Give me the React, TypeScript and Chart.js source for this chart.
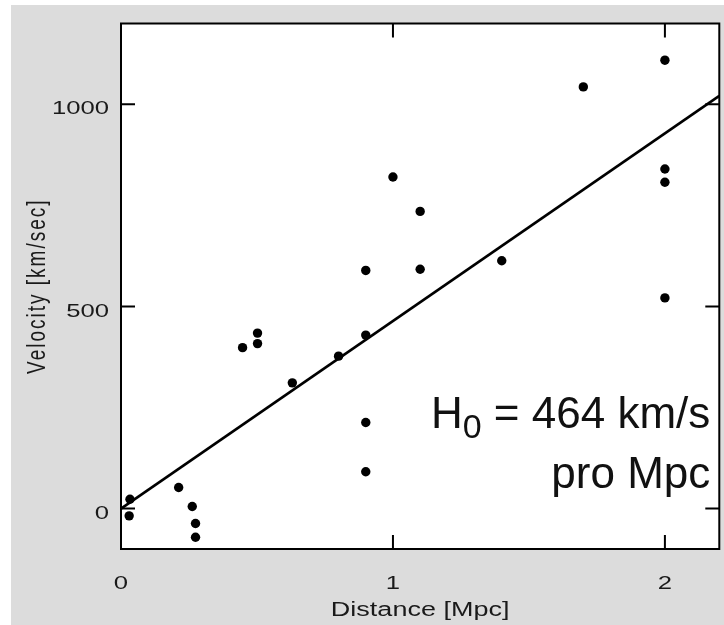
import { useEffect, useRef } from "react";
import { Chart, registerables } from "chart.js";

Chart.register(...registerables);

const distanceMpc = [0.033, 0.03, 0.212, 0.262, 0.274, 0.274, 0.447, 0.502, 0.502, 0.63, 0.8, 0.9, 0.9, 0.9, 0.9, 1.0, 1.1, 1.1, 1.4, 1.7, 2.0, 2.0, 2.0, 2.0];
const velocityKms = [23, -18, 52, 5, -37, -71, 398, 434, 408, 311, 377, 429, 589, 213, 91, 820, 735, 592, 613, 1043, 1109, 840, 807, 521];

// Fitted Hubble line end points
const fitDistance = [0, 2.2];
const fitVelocity = [0, 1021];

const xTickValues = [0, 1, 2];
const yTickValues = [0, 500, 1000];

const xTitle = "Distance [Mpc]";
const yTitle = "Velocity [km/sec]";
const annoH = "H";
const annoSub = "0";
const annoRest = " = 464 km/s";
const annoLine2 = "pro Mpc";

const FONT = '"Liberation Sans", Arial, Helvetica, sans-serif';
const STRETCH = 1.35;

export default function App() {
  const ref = useRef<HTMLCanvasElement>(null);

  useEffect(() => {
    const canvas = ref.current;
    if (!canvas) return;

    const unpatch = (ctx: any) => {
      if (Object.prototype.hasOwnProperty.call(ctx, "fillText")) delete ctx.fillText;
    };

    const framePlugin = {
      id: "frame",
      beforeDraw(chart: any) {
        const { ctx, chartArea: a, width, height } = chart;
        ctx.save();
        ctx.fillStyle = "#ffffff";
        ctx.fillRect(0, 0, width, height);
        ctx.fillStyle = "#dcdcdc";
        ctx.fillRect(11, 5, width - 11, height - 5);
        ctx.fillStyle = "#ffffff";
        ctx.fillRect(a.left, a.top, a.right - a.left, a.bottom - a.top);
        ctx.restore();
        // horizontally stretched axis lettering, as in the reference
        const orig = CanvasRenderingContext2D.prototype.fillText;
        ctx.fillText = function (text: string, x: number, y: number, maxWidth?: number) {
          const m = this.getTransform();
          this.save();
          if (Math.abs(m.b) > 0.01) {
            (this as any).letterSpacing = "2px";
          }
          const p = m.transformPoint(new DOMPoint(x, y));
          this.setTransform(new DOMMatrix().translate(p.x, p.y).scale(STRETCH, 1).translate(-p.x, -p.y).multiply(m));
          if (maxWidth === undefined) orig.call(this, text, x, y);
          else orig.call(this, text, x, y, maxWidth);
          this.restore();
        };
      },
      afterDatasetsDraw(chart: any) {
        const { ctx, chartArea: a, scales } = chart;
        unpatch(ctx);
        const xs = scales.x;
        const ys = scales.y;
        const tl = 14;
        ctx.save();
        ctx.strokeStyle = "#000";
        ctx.lineWidth = 2;
        ctx.beginPath();
        ctx.rect(a.left, a.top, a.right - a.left, a.bottom - a.top);
        ctx.stroke();
        ctx.beginPath();
        xs.ticks.forEach((t: any) => {
          const px = xs.getPixelForValue(t.value);
          ctx.moveTo(px, a.bottom);
          ctx.lineTo(px, a.bottom - tl);
          ctx.moveTo(px, a.top);
          ctx.lineTo(px, a.top + tl);
        });
        ys.ticks.forEach((t: any) => {
          const py = ys.getPixelForValue(t.value);
          ctx.moveTo(a.left, py);
          ctx.lineTo(a.left + tl, py);
          ctx.moveTo(a.right, py);
          ctx.lineTo(a.right - tl, py);
        });
        ctx.stroke();

        // annotation
        const right = a.right - 9;
        const base1 = ys.getPixelForValue(200);
        const base2 = ys.getPixelForValue(50);
        ctx.fillStyle = "#111";
        ctx.textAlign = "right";
        ctx.textBaseline = "alphabetic";
        ctx.font = `44px ${FONT}`;
        ctx.fillText(annoRest, right, base1);
        const w1 = ctx.measureText(annoRest).width;
        ctx.font = `34px ${FONT}`;
        ctx.fillText(annoSub, right - w1, base1 + 10);
        const w2 = ctx.measureText(annoSub).width;
        ctx.font = `44px ${FONT}`;
        ctx.fillText(annoH, right - w1 - w2, base1);
        ctx.fillText(annoLine2, right, base2);
        ctx.restore();
      },
    };

    const chart = new Chart(canvas, {
      type: "scatter",
      data: {
        datasets: [
          {
            label: "Galaxies",
            data: distanceMpc.map((d, i) => ({ x: d, y: velocityKms[i] })),
            pointRadius: 4.7,
            pointHoverRadius: 4.7,
            pointBackgroundColor: "#000",
            pointBorderWidth: 0,
          },
          {
            label: "Fit",
            type: "line",
            data: fitDistance.map((d, i) => ({ x: d, y: fitVelocity[i] })),
            borderColor: "#000",
            borderWidth: 2.7,
            pointRadius: 0,
            showLine: true,
            fill: false,
            tension: 0,
          } as any,
        ],
      },
      options: {
        animation: false,
        responsive: false,
        devicePixelRatio: 1,
        events: [],
        layout: { padding: { top: 18, right: 2, left: 0, bottom: 0 } },
        plugins: { legend: { display: false }, tooltip: { enabled: false } },
        scales: {
          x: {
            type: "linear",
            min: 0,
            max: 2.2,
            grid: { display: false, drawTicks: false },
            border: { display: false },
            afterBuildTicks: (s: any) => {
              s.ticks = xTickValues.map((v) => ({ value: v }));
            },
            afterFit: (s: any) => {
              s.height = 76;
            },
            ticks: {
              padding: 23,
              color: "#1a1a1a",
              autoSkip: false,
              maxRotation: 0,
              font: { family: FONT, size: 19 },
              callback: (v: any) => String(v),
            },
            title: {
              display: true,
              text: xTitle,
              color: "#1a1a1a",
              font: { family: FONT, size: 20 },
              padding: { top: 0, bottom: 3 },
            },
          },
          y: {
            type: "linear",
            min: -100,
            max: 1200,
            grid: { display: false, drawTicks: false },
            border: { display: false },
            afterBuildTicks: (s: any) => {
              s.ticks = yTickValues.map((v) => ({ value: v }));
            },
            afterFit: (s: any) => {
              s.width = 121;
            },
            ticks: {
              padding: 12,
              labelOffset: 5,
              color: "#1a1a1a",
              autoSkip: false,
              font: { family: FONT, size: 19 },
              callback: (v: any) => String(v),
            },
            title: {
              display: true,
              text: yTitle,
              color: "#1a1a1a",
              font: { family: FONT, size: 19 },
              padding: { top: 27, bottom: 0 },
            },
          },
        },
      },
      plugins: [framePlugin],
    });

    return () => {
      unpatch((chart as any).ctx);
      chart.destroy();
    };
  }, []);

  return (
    <div style={{ position: "absolute", left: 0, top: 0, width: 724, height: 625 }}>
      <canvas ref={ref} width={724} height={625} style={{ display: "block" }} />
    </div>
  );
}
